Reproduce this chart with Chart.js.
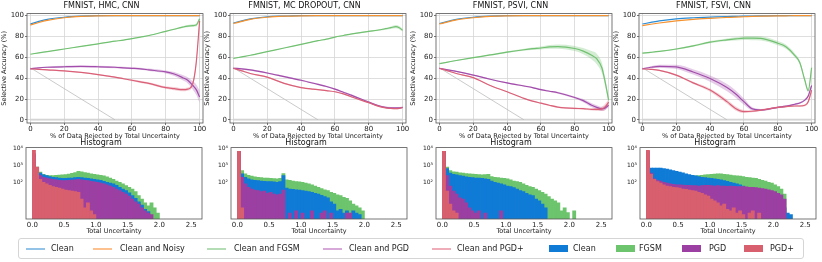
<!DOCTYPE html>
<html>
<head>
<meta charset="utf-8">
<script src="https://cdn.jsdelivr.net/npm/chart.js@4.4.0/dist/chart.umd.min.js"></script>
<style>
  body { margin: 0; background: #fff; width: 822px; height: 262px; overflow: hidden; position: relative; font-family: "DejaVu Sans", sans-serif; }
  canvas { position: absolute; }
  #legendBox { position: absolute; left: 18px; top: 238px; width: 786px; height: 21px; border: 1px solid #d5d5d5; border-radius: 3px; box-sizing: border-box; }
  .lg { position: absolute; top: 243px; height: 12px; line-height: 12px; font-size: 8px; color: #222; white-space: nowrap; }
  .hl { position: absolute; top: 248px; height: 1.5px; }
  .hb { position: absolute; top: 245px; height: 7px; }
</style>
</head>
<body>
<div id="legendBox"></div>
<script>
// ----------- Selective accuracy curves (x = % rejected) -----------
const rejectedPct = [0, 5, 10, 20, 30, 40, 50, 55, 60, 65, 70, 80, 85, 90, 93, 96, 98, 100];

const hmcClean = [92, 94.5, 96.5, 98.5, 99.5, 100, 100, 100, 100, 100, 100, 100, 100, 100, 100, 100, 100, 100];
const hmcNoisy = [91, 93.5, 95.5, 98, 99.3, 99.8, 100, 100, 100, 100, 100, 100, 100, 100, 100, 100, 100, 100];
const hmcFgsm = [63, 64.3, 65.5, 68, 70.5, 73, 75.5, 76.5, 78, 79.5, 81, 85, 87, 89, 90, 90.5, 91, 97];
const hmcFgsmBand = [0.3, 0.3, 0.3, 0.3, 0.3, 0.3, 0.3, 0.3, 0.3, 0.3, 0.4, 0.5, 0.6, 0.8, 1, 1.2, 1.5, 2];
const hmcPgd = [49, 50, 50.5, 51, 51.3, 51, 50.5, 50, 49.5, 49, 48, 46, 44, 40.5, 38, 33, 29, 22];
const hmcPgdBand = [0.5, 0.5, 0.7, 1, 1, 1, 1, 1, 1, 1, 1.2, 1.5, 2, 2.5, 3, 4, 5, 6];
const hmcPgdPlus = [49, 48.5, 48, 47, 45.5, 43.5, 41, 39.5, 38, 36.5, 35, 31, 30, 29, 29.5, 35, 55, 95];
const hmcPgdPlusBand = [0.5, 0.5, 0.5, 0.5, 0.5, 0.6, 0.7, 0.8, 0.9, 1, 1, 1.2, 1.5, 1.5, 1.5, 2, 3, 3];

const mcClean = [93, 95, 97, 99, 99.6, 100, 100, 100, 100, 100, 100, 100, 100, 100, 100, 100, 100, 100];
const mcNoisy = [92.5, 94.5, 96.5, 98.5, 99.5, 99.9, 100, 100, 100, 100, 100, 100, 100, 100, 100, 100, 100, 100];
const mcFgsm = [59, 60.5, 62, 65.5, 69, 72.5, 76, 77.5, 79.5, 81, 82.5, 85, 86, 87.5, 88.5, 89.5, 88.5, 86];
const mcFgsmBand = [0.3, 0.3, 0.3, 0.3, 0.3, 0.3, 0.4, 0.4, 0.4, 0.5, 0.5, 0.6, 0.8, 1, 1.2, 1.5, 1.5, 1.5];
const mcPgd = [49.5, 49, 48, 45, 41.5, 38, 34, 32, 29.5, 26.5, 23.5, 17, 14, 12, 11.5, 11.5, 11.5, 12];
const mcPgdBand = [0.8, 0.8, 0.8, 0.8, 0.8, 0.8, 0.8, 0.8, 0.8, 0.8, 0.8, 0.8, 0.8, 0.8, 0.8, 0.8, 0.8, 0.8];
const mcPgdPlus = [49.5, 47, 44.5, 41, 35, 31, 29, 28, 27, 25, 22, 16.5, 13.5, 11.5, 11, 10.8, 11, 12];
const mcPgdPlusBand = [0.6, 0.6, 0.6, 0.6, 0.6, 0.6, 0.6, 0.6, 0.6, 0.6, 0.6, 0.6, 0.6, 0.6, 0.6, 0.6, 0.6, 0.6];

const psClean = [92.5, 94.5, 96.5, 98.5, 99.5, 100, 100, 100, 100, 100, 100, 100, 100, 100, 100, 100, 100, 100];
const psNoisy = [92, 94, 96, 98, 99.3, 99.8, 100, 100, 100, 100, 100, 100, 100, 100, 100, 100, 100, 100];
const psFgsm = [54, 55.5, 57, 59.7, 62.3, 65, 67.3, 68.3, 69, 70, 70.3, 68.5, 66, 62, 58.5, 50, 36, 19];
const psFgsmBand = [0.3, 0.3, 0.4, 0.5, 0.6, 0.8, 1, 1.2, 1.5, 1.8, 2, 2.5, 3, 4, 5, 5, 4, 3];
const psPgd = [49.5, 48, 46.5, 43, 39, 35.5, 32.5, 31, 29, 27.5, 26, 21.5, 18.5, 14, 12, 10.5, 11.5, 14];
const psPgdBand = [0.5, 0.5, 0.5, 0.5, 0.5, 0.6, 0.7, 0.7, 0.8, 0.8, 0.9, 1, 1.5, 2, 2, 2, 2, 2];
const psPgdPlus = [49.5, 47, 44.5, 40.5, 33, 27, 20.6, 18, 16, 14, 12.3, 11, 10.8, 10, 10, 10.5, 12.5, 17];
const psPgdPlusBand = [0.5, 0.5, 0.5, 0.5, 0.5, 0.5, 0.5, 0.5, 0.5, 0.6, 0.6, 0.7, 0.8, 1, 1.5, 2, 3, 3];

const fsClean = [92, 93.5, 95, 97, 98, 98.6, 99.2, 99.4, 99.6, 99.7, 99.8, 100, 100, 100, 100, 100, 100, 100];
const fsNoisy = [90.5, 91.8, 93, 95, 96.5, 97.5, 98.3, 98.7, 99, 99.3, 99.5, 99.8, 99.9, 100, 100, 100, 100, 100];
const fsFgsm = [64, 64.8, 65.7, 68, 71, 74.6, 76.8, 77.7, 78.4, 78.5, 78.2, 73.6, 70, 62, 55, 38, 28, 50];
const fsFgsmBand = [0.5, 0.5, 0.5, 0.6, 0.8, 1, 1.2, 1.5, 1.8, 2, 2, 2, 2, 2, 2, 2, 2, 2];
const fsPgd = [49, 50.5, 51.4, 50.8, 46, 39.7, 31, 25, 17.5, 10.5, 9.5, 12, 13.2, 15, 16.2, 19, 23, 33];
const fsPgdBand = [0.5, 1, 1.5, 2, 2.5, 3, 3.5, 3.5, 3, 1.5, 1, 0.8, 0.8, 0.8, 1, 1, 1.5, 2];
const fsPgdPlus = [49, 48.5, 47.5, 43, 35.5, 28.6, 17.5, 11, 8, 8.3, 9.3, 12, 12.8, 13.3, 13.3, 14, 17.5, 28.6];
const fsPgdPlusBand = [0.5, 0.5, 0.6, 0.8, 1, 1.5, 2, 2, 1.5, 1, 0.8, 0.8, 0.8, 0.8, 1, 1, 1.5, 2];

// grey reference diagonal and the floor line
const refLineX = [0, 50];
const refLineY = [50, 0];
const floorLineX = [0, 100];
const floorLineY = [0, 0];

// ----------- Histograms of total uncertainty -----------
const histBinCenters = [0.025, 0.075, 0.125, 0.175, 0.225, 0.275, 0.325, 0.375, 0.425, 0.475,
  0.525, 0.575, 0.625, 0.675, 0.725, 0.775, 0.825, 0.875, 0.925, 0.975,
  1.025, 1.075, 1.125, 1.175, 1.225, 1.275, 1.325, 1.375, 1.425, 1.475,
  1.525, 1.575, 1.625, 1.675, 1.725, 1.775, 1.825, 1.875, 1.925, 1.975,
  2.025, 2.075, 2.125, 2.175, 2.225, 2.275];
const histTicks = [100, 1000, 10000];
const histTickLabels = ['10²', '10³', '10⁴'];

const hmcHistClean = [4000, 700, 350, 280, 250, 220, 200, 190, 180, 170, 170, 175, 180, 190, 200, 190, 180, 170, 160, 150,
  140, 130, 115, 100, 90, 80, 65, 50, 40, 32, 24, 16, 11, 7, 4.5, 2.5, 1.8, 0, 0, 0, 0, 0, 0, 0, 0, 0];
const hmcHistFgsm = [3000, 800, 400, 300, 260, 250, 250, 260, 270, 280, 290, 310, 340, 380, 450, 420, 380, 350, 320, 300,
  280, 260, 240, 210, 180, 150, 120, 100, 80, 63, 50, 40, 28, 16, 10, 6, 4, 6, 3, 1.5, 0, 0, 0, 0, 0, 0];
const hmcHistPgd = [5000, 500, 250, 200, 180, 160, 150, 140, 130, 125, 125, 130, 135, 140, 150, 140, 130, 125, 115, 105,
  100, 90, 80, 70, 60, 50, 40, 32, 25, 20, 15, 10, 7, 5, 3, 2, 1.5, 1.2, 0, 0, 0, 0, 0, 0, 0, 0];
const hmcHistPgdPlus = [8000, 800, 150, 100, 80, 65, 55, 50, 45, 40, 35, 32, 30, 28, 25, 10, 3, 6, 2, 1.2,
  0, 0, 0, 0, 0, 0, 0, 0, 0, 0, 0, 0, 0, 0, 0, 0, 0, 0, 0, 0, 0, 0, 0, 0, 0, 0];

const mcHistClean = [7000, 320, 200, 160, 140, 130, 125, 120, 115, 110, 110, 105, 100, 110, 250, 45, 40, 38, 36, 34,
  32, 30, 28, 25, 22, 20, 17, 14, 12, 7, 5, 2, 2.5, 1.5, 2, 1.2, 2, 1.5, 1.2, 0, 0, 0, 0, 0, 0, 0];
const mcHistFgsm = [5000, 500, 320, 260, 230, 210, 200, 190, 180, 175, 170, 165, 160, 170, 330, 140, 130, 120, 110, 105,
  100, 90, 80, 70, 60, 50, 42, 36, 32, 25, 22, 18, 16, 13, 11, 8, 5, 4, 3, 2, 0, 0, 0, 0, 0, 0];
const mcHistPgd = [7000, 200, 80, 50, 40, 35, 32, 28, 30, 22, 25, 20, 18, 20, 35, 0, 1.5, 0, 2, 0,
  1.5, 0, 0, 2, 0, 0, 1.5, 2, 0, 1.5, 0, 0, 0, 0, 1.5, 1.5, 0, 0, 0, 0, 0, 0, 0, 0, 0, 0];
const mcHistPgdPlus = [7000, 3, 0, 0, 0, 0, 0, 0, 0, 0, 0, 0, 0, 0, 0, 0, 0, 0, 0, 0,
  0, 0, 0, 0, 0, 0, 0, 0, 0, 0, 0, 0, 0, 0, 0, 0, 0, 0, 0, 0, 0, 0, 0, 0, 0, 0];

const psHistClean = [7000, 650, 350, 300, 280, 250, 230, 210, 200, 190, 180, 175, 170, 160, 150, 120, 100, 90, 80, 70,
  60, 55, 48, 40, 32, 28, 22, 18, 16, 10, 8, 5, 3, 0, 0, 0, 0, 0, 0, 0, 0, 0, 0, 0, 0, 0];
const psHistFgsm = [5000, 800, 500, 420, 400, 370, 350, 330, 320, 310, 300, 290, 280, 290, 300, 220, 200, 190, 180, 170,
  160, 140, 120, 110, 100, 80, 65, 55, 50, 40, 32, 25, 20, 14, 10, 8, 6, 2, 3, 1.6, 0, 2, 0, 0, 0, 0];
const psHistPgd = [7000, 250, 60, 30, 20, 12, 10, 6, 3, 2, 1.5, 2, 0, 1.5, 0, 0, 0, 0, 2, 0,
  0, 0, 0, 0, 0, 0, 0, 0, 0, 0, 0, 0, 0, 0, 0, 0, 0, 0, 0, 0, 0, 0, 0, 0, 0, 0];
const psHistPgdPlus = [7000, 30, 5, 2, 1.5, 0, 0, 0, 0, 0, 0, 0, 0, 0, 0, 0, 0, 0, 0, 0,
  0, 0, 0, 0, 0, 0, 0, 0, 0, 0, 0, 0, 0, 0, 0, 0, 0, 0, 0, 0, 0, 0, 0, 0, 0, 0];

const fsHistClean = [100, 700, 700, 700, 700, 650, 600, 550, 500, 450, 400, 360, 320, 290, 260, 240, 220, 200, 190, 180,
  170, 160, 150, 140, 125, 115, 100, 90, 80, 70, 60, 50, 45, 40, 35, 30, 25, 20, 16, 12, 10, 8, 6, 3, 1.5, 1.2];
const fsHistFgsm = [2000, 300, 250, 220, 200, 200, 200, 200, 200, 200, 210, 210, 220, 230, 240, 240, 250, 260, 280, 290,
  300, 310, 320, 320, 300, 290, 270, 250, 240, 230, 220, 200, 190, 180, 170, 150, 130, 120, 100, 90, 70, 55, 40, 20, 0, 0];
const fsHistPgd = [7000, 350, 160, 130, 120, 100, 90, 80, 75, 70, 70, 68, 65, 65, 63, 63, 60, 63, 65, 65,
  63, 60, 63, 60, 60, 58, 60, 58, 55, 55, 55, 53, 50, 50, 48, 45, 42, 40, 36, 32, 28, 22, 18, 10, 0, 0];
const fsHistPgdPlus = [8000, 300, 150, 110, 90, 70, 60, 55, 50, 48, 45, 40, 38, 35, 32, 30, 25, 22, 18, 15,
  10, 8, 6, 4, 5, 2.5, 2, 3, 1.5, 2, 1.2, 0, 1.5, 2, 0, 1.5, 0, 0, 0, 0, 0, 0, 0, 0, 0, 0];

const panelTitles = ['FMNIST, HMC, CNN', 'FMNIST, MC DROPOUT, CNN', 'FMNIST, PSVI, CNN', 'FMNIST, FSVI, CNN'];
const lineLabels = ['Clean', 'Clean and Noisy', 'Clean and FGSM', 'Clean and PGD', 'Clean and PGD+'];
const histLabels = ['Clean', 'FGSM', 'PGD', 'PGD+'];

const panels = [
  { clean: hmcClean, noisy: hmcNoisy, fgsm: hmcFgsm, fgsmBand: hmcFgsmBand, pgd: hmcPgd, pgdBand: hmcPgdBand, pgdp: hmcPgdPlus, pgdpBand: hmcPgdPlusBand,
    hist: [hmcHistClean, hmcHistFgsm, hmcHistPgd, hmcHistPgdPlus] },
  { clean: mcClean, noisy: mcNoisy, fgsm: mcFgsm, fgsmBand: mcFgsmBand, pgd: mcPgd, pgdBand: mcPgdBand, pgdp: mcPgdPlus, pgdpBand: mcPgdPlusBand,
    hist: [mcHistClean, mcHistFgsm, mcHistPgd, mcHistPgdPlus] },
  { clean: psClean, noisy: psNoisy, fgsm: psFgsm, fgsmBand: psFgsmBand, pgd: psPgd, pgdBand: psPgdBand, pgdp: psPgdPlus, pgdpBand: psPgdPlusBand,
    hist: [psHistClean, psHistFgsm, psHistPgd, psHistPgdPlus] },
  { clean: fsClean, noisy: fsNoisy, fgsm: fsFgsm, fgsmBand: fsFgsmBand, pgd: fsPgd, pgdBand: fsPgdBand, pgdp: fsPgdPlus, pgdpBand: fsPgdPlusBand,
    hist: [fsHistClean, fsHistFgsm, fsHistPgd, fsHistPgdPlus] }
];

const lineColors = { clean: '#2b8cd6', noisy: '#f5922f', fgsm: '#72c172', pgd: '#a24dab', pgdp: '#da6078' };
const bandColors = { fgsm: 'rgba(114,193,114,0.3)', pgd: 'rgba(162,77,171,0.28)', pgdp: 'rgba(218,96,120,0.28)' };
const histColors = ['#0f7bd6', '#6cc46c', '#9c3fa3', '#d85f6e'];
const legendLineColors = ['#93c4e8', '#fdc08f', '#b5ddb5', '#d7a9d9', '#efadb9'];

const plotLefts = [27, 230, 436, 639];
const histLefts = [26, 231, 436, 640];

Chart.defaults.font.family = '"DejaVu Sans", sans-serif';
Chart.defaults.color = '#222';

// box around the plot area, like matplotlib spines
const framePlugin = {
    id: 'frame',
    afterDraw(chart) {
        const a = chart.chartArea, ctx = chart.ctx;
        ctx.save();
        ctx.strokeStyle = '#555';
        ctx.lineWidth = 0.8;
        ctx.strokeRect(a.left, a.top, a.right - a.left, a.bottom - a.top);
        ctx.restore();
    }
};

function addCanvas(left, top, w, h) {
    const c = document.createElement('canvas');
    c.width = w; c.height = h;
    c.style.left = left + 'px'; c.style.top = top + 'px';
    c.style.width = w + 'px'; c.style.height = h + 'px';
    document.body.appendChild(c);
    return c;
}

function pts(ys) { return rejectedPct.map((x, i) => ({ x: x, y: ys[i] })); }

function lineSet(ys, color) {
    return { data: pts(ys), borderColor: color, borderWidth: 1.2, pointRadius: 0, fill: false, cubicInterpolationMode: 'monotone' };
}

function bandSets(ys, band, color) {
    return [
        { data: rejectedPct.map((x, i) => ({ x: x, y: ys[i] + band[i] })), borderColor: 'rgba(0,0,0,0)', pointRadius: 0, fill: false, cubicInterpolationMode: 'monotone' },
        { data: rejectedPct.map((x, i) => ({ x: x, y: ys[i] - band[i] })), borderColor: 'rgba(0,0,0,0)', pointRadius: 0, fill: '-1', backgroundColor: color, cubicInterpolationMode: 'monotone' }
    ];
}

panels.forEach((p, k) => {
    // ----------- top: selective accuracy -----------
    const top = addCanvas(plotLefts[k] - 27, 0, 27 + 176 + 8, 141);
    const datasets = [
        lineSet(p.pgdp, lineColors.pgdp),
        lineSet(p.pgd, lineColors.pgd),
        lineSet(p.fgsm, lineColors.fgsm),
        lineSet(p.noisy, lineColors.noisy),
        lineSet(p.clean, lineColors.clean),
        ...bandSets(p.pgdp, p.pgdpBand, bandColors.pgdp),
        ...bandSets(p.pgd, p.pgdBand, bandColors.pgd),
        ...bandSets(p.fgsm, p.fgsmBand, bandColors.fgsm),
        { data: refLineX.map((x, i) => ({ x: x, y: refLineY[i] })), borderColor: '#bdbdbd', borderWidth: 0.8, pointRadius: 0, fill: false },
        { data: floorLineX.map((x, i) => ({ x: x, y: floorLineY[i] })), borderColor: 'rgba(200,200,200,0.45)', borderWidth: 2.5, pointRadius: 0, fill: false }
    ];
    new Chart(top, {
        type: 'line',
        data: { datasets: datasets },
        options: {
            responsive: false,
            animation: false,
            devicePixelRatio: 1,
            layout: { padding: { left: 0, right: 8, top: 0, bottom: 0 } },
            plugins: {
                legend: { display: false },
                tooltip: { enabled: false },
                title: { display: true, text: panelTitles[k], font: { size: 8, weight: 'normal' }, color: '#111', padding: { top: 1, bottom: 3 } }
            },
            scales: {
                x: {
                    type: 'linear', min: -2, max: 102,
                    afterFit: s => { s.height = 18; },
                    ticks: { stepSize: 20, includeBounds: false, font: { size: 7 }, padding: 0, maxRotation: 0 },
                    grid: { color: '#d6d6d6', lineWidth: 0.8, tickLength: 2, tickColor: '#555' },
                    border: { display: false },
                    title: { display: true, text: '% of Data Rejected by Total Uncertainty', font: { size: 6.5 }, padding: { top: 0, bottom: 1 } }
                },
                y: {
                    min: -3, max: 102,
                    afterFit: s => { s.width = 27; },
                    ticks: { stepSize: 10, includeBounds: false, font: { size: 7 }, padding: 1 },
                    grid: { color: '#d6d6d6', lineWidth: 0.8, tickLength: 2, tickColor: '#555' },
                    border: { display: false },
                    title: { display: true, text: 'Selective Accuracy (%)', font: { size: 6.5 }, padding: { top: 0, bottom: 1 } }
                }
            }
        },
        plugins: [framePlugin]
    });

    // ----------- bottom: histogram -----------
    const bottom = addCanvas(histLefts[k] - 26, 136, 26 + 176 + 8, 100);
    const order = [3, 2, 0, 1]; // PGD+ on top, FGSM at the back
    new Chart(bottom, {
        type: 'bar',
        data: {
            datasets: order.map(j => ({
                label: histLabels[j],
                data: histBinCenters.map((x, i) => ({ x: x, y: p.hist[j][i] > 0 ? p.hist[j][i] : null })),
                backgroundColor: histColors[j],
                borderWidth: 0,
                grouped: false,
                barPercentage: 1,
                categoryPercentage: 1
            }))
        },
        options: {
            responsive: false,
            animation: false,
            devicePixelRatio: 1,
            layout: { padding: { left: 0, right: 8, top: 0, bottom: 0 } },
            plugins: {
                legend: { display: false },
                tooltip: { enabled: false },
                title: { display: true, text: 'Histogram', font: { size: 8, weight: 'normal' }, color: '#111', padding: { top: 2, bottom: 0 } }
            },
            scales: {
                x: {
                    type: 'linear', min: -0.1, max: 2.67, offset: false,
                    afterFit: s => { s.height = 17; },
                    ticks: { stepSize: 0.5, includeBounds: false, font: { size: 7 }, padding: 2, maxRotation: 0, callback: v => v.toFixed(1) },
                    grid: { display: false, drawTicks: false, offset: false },
                    border: { display: false },
                    title: { display: true, text: 'Total Uncertainty', font: { size: 6.5 }, padding: { top: 0, bottom: 1 } }
                },
                y: {
                    type: 'logarithmic', min: 0.66, max: 11500, bounds: 'data',
                    afterFit: s => { s.width = 26; },
                    afterBuildTicks: s => { s.ticks = histTicks.map(v => ({ value: v })); },
                    ticks: { font: { size: 6 }, padding: 3, callback: v => histTickLabels[histTicks.indexOf(v)] },
                    grid: { display: false, drawTicks: false },
                    border: { display: false }
                }
            }
        },
        plugins: [framePlugin]
    });
});

// ----------- Legend -----------
const legendLineX = [26, 93, 207, 323, 432];
const legendLineText = [51, 120, 234, 349, 457];
const legendBoxX = [549, 616, 682, 744];
const legendBoxText = [573, 639, 709, 770];

function addEl(cls, left, width, color, text) {
    const el = document.createElement('div');
    el.className = cls;
    el.style.left = left + 'px';
    if (width) el.style.width = width + 'px';
    if (color) el.style.background = color;
    if (text) el.textContent = text;
    document.body.appendChild(el);
}

lineLabels.forEach((label, i) => {
    addEl('hl', legendLineX[i], 19, legendLineColors[i]);
    addEl('lg', legendLineText[i], 0, null, label);
});
histLabels.forEach((label, i) => {
    addEl('hb', legendBoxX[i], 19, histColors[i]);
    addEl('lg', legendBoxText[i], 0, null, label);
});
</script>
</body>
</html>
